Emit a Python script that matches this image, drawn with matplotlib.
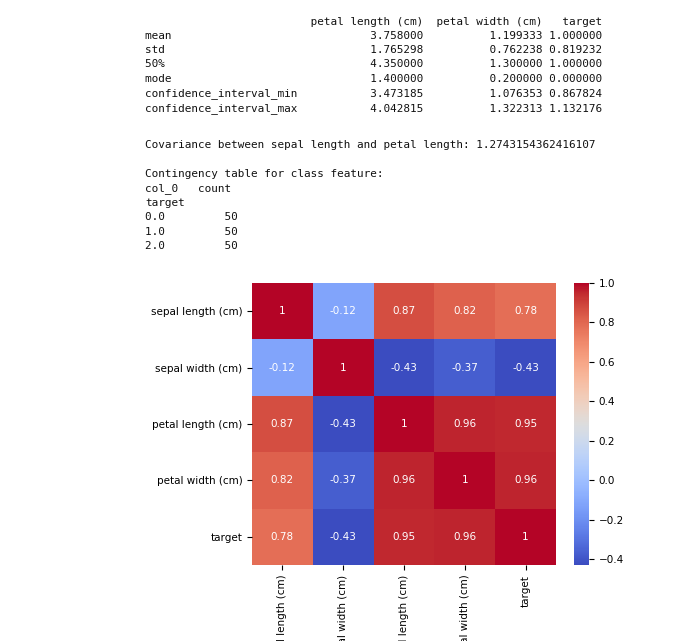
import numpy as np
import matplotlib
matplotlib.use('Agg')
import matplotlib.pyplot as plt

# summary stats table
STAT_ROWS = ['mean', 'std', '50%', 'mode',
             'confidence_interval_min', 'confidence_interval_max']
STAT_COLS = ['petal length (cm)', 'petal width (cm)', 'target']
STAT_VALS = [
    [3.758000, 1.199333, 1.000000],
    [1.765298, 0.762238, 0.819232],
    [4.350000, 1.300000, 1.000000],
    [1.400000, 0.200000, 0.000000],
    [3.473185, 1.076353, 0.867824],
    [4.042815, 1.322313, 1.132176],
]
COVARIANCE = 1.2743154362416107
CLASS_LABELS = ['0.0', '1.0', '2.0']
CLASS_COUNTS = [50, 50, 50]

# correlation matrix
FEATURES = ['sepal length (cm)', 'sepal width (cm)', 'petal length (cm)',
            'petal width (cm)', 'target']
CORR = [
    [1.00, -0.12, 0.87, 0.82, 0.78],
    [-0.12, 1.00, -0.43, -0.37, -0.43],
    [0.87, -0.43, 1.00, 0.96, 0.95],
    [0.82, -0.37, 0.96, 1.00, 0.96],
    [0.78, -0.43, 0.95, 0.96, 1.00],
]

W, H = 680, 641
fig = plt.figure(figsize=(W / 100, H / 100), dpi=100)
mono = dict(family='DejaVu Sans Mono', fontsize=7.9, color='#111111',
            va='top', ha='left', linespacing=1.52)

# pandas-like text block
idx_w = max(len(r) for r in STAT_ROWS)
widths = [len(c) for c in STAT_COLS[:2]] + [8]
seps = ['  ', '  ', ' ']
lines = [' ' * idx_w + ''.join(s + c.rjust(w) for s, c, w in zip(seps, STAT_COLS, widths))]
for r, vals in zip(STAT_ROWS, STAT_VALS):
    lines.append(r.ljust(idx_w) +
                 ''.join(s + f'{v:.6f}'.rjust(w) for s, v, w in zip(seps, vals, widths)))
fig.text(145 / W, 1 - 17 / H, '\n'.join(lines), **mono)

fig.text(145 / W, 1 - 140 / H,
         f'Covariance between sepal length and petal length: {COVARIANCE}', **mono)

cont = ['Contingency table for class feature:', 'col_0   count', 'target']
cont += [f'{c:<12}{n}' for c, n in zip(CLASS_LABELS, CLASS_COUNTS)]
fig.text(145 / W, 1 - 169 / H, '\n'.join(cont), **mono)

# heatmap
ax = fig.add_axes([252 / W, 1 - 565 / H, 304 / W, 282 / H])
cax = fig.add_axes([574 / W, 1 - 565 / H, 15 / W, 282 / H])
data = np.array(CORR)
im = ax.pcolormesh(data, cmap='coolwarm', vmin=data.min(), vmax=data.max())
ax.set_xlim(0, len(FEATURES))
ax.set_ylim(len(FEATURES), 0)
for i in range(len(FEATURES)):
    for j in range(len(FEATURES)):
        ax.text(j + 0.5, i + 0.5, f'{data[i, j]:.2g}', ha='center', va='center',
                fontsize=7.5, color='white')
ax.set_xticks(np.arange(len(FEATURES)) + 0.5)
ax.set_xticklabels(FEATURES, rotation=90, fontsize=7.5)
ax.set_yticks(np.arange(len(FEATURES)) + 0.5)
ax.set_yticklabels(FEATURES, fontsize=7.5)
for sp in ax.spines.values():
    sp.set_visible(False)
cb = fig.colorbar(im, cax=cax)
cb.outline.set_visible(False)
cb.set_ticks([-0.4, -0.2, 0.0, 0.2, 0.4, 0.6, 0.8, 1.0])
cb.ax.tick_params(labelsize=7.5)

fig.savefig('out.png', dpi=100, facecolor='white')
